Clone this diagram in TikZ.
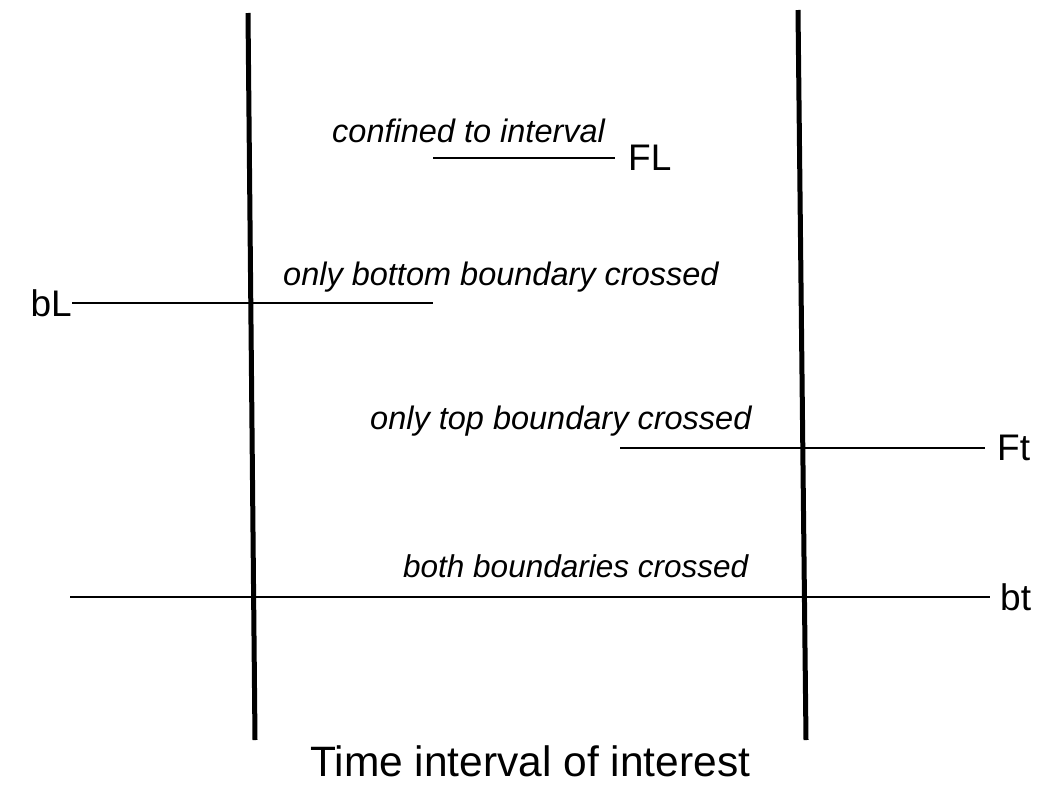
\documentclass[tikz,border=0pt]{standalone}
\usepackage{fontspec}
\setmainfont{Liberation Sans}
\begin{document}
\begin{tikzpicture}[x=1pt,y=-1pt,
  bound/.style={line width=5pt},
  period/.style={line width=2.6pt},
  lbl/.style={inner sep=0pt,font=\fontsize{32.5}{39}\selectfont\itshape,anchor=base west},
  tag/.style={inner sep=0pt,font=\fontsize{37}{44}\selectfont},
  captiontext/.style={inner sep=0pt,font=\fontsize{42.5}{50}\selectfont,anchor=base west}]
\useasboundingbox (0,0) rectangle (1039,793);
% boundaries
\coordinate (Lt) at (248,13);
\coordinate (Lb) at (255,740);
\coordinate (Rt) at (798,10);
\coordinate (Rb) at (806,740);
\draw[bound] (Lt) -- (Lb);
\draw[bound] (Rt) -- (Rb);
% confined
\node[tag,anchor=west] (FL) at (628,158) {FL};
\coordinate (FLs) at (433,158);
\draw[period] (FLs) -- ([xshift=-13pt]FL.west);
\node[lbl] (l1) at (332,142) {confined to interval};
% bottom crossed
\node[tag,anchor=east] (bL) at (72,303) {bL};
\coordinate (bLe) at (433,303);
\draw[period] (bL.east) -- (bLe);
\node[lbl] (l2) at (283,285) {only bottom boundary crossed};
% top crossed
\node[tag,anchor=west] (Ft) at (997,448) {Ft};
\coordinate (Fts) at (620,448);
\draw[period] (Fts) -- ([xshift=-12pt]Ft.west);
\node[lbl] (l3) at (370,429) {only top boundary crossed};
% both crossed
\node[tag,anchor=west] (bt) at (1000,597) {bt};
\coordinate (bts) at (70,597);
\draw[period] (bts) -- ([xshift=-10pt]bt.west);
\node[lbl,font=\fontsize{31.5}{38}\selectfont\itshape] (l4) at (403,577) {both boundaries crossed};
% caption
\node[captiontext] (c) at (310,776) {Time interval of interest};
\end{tikzpicture}
\end{document}
